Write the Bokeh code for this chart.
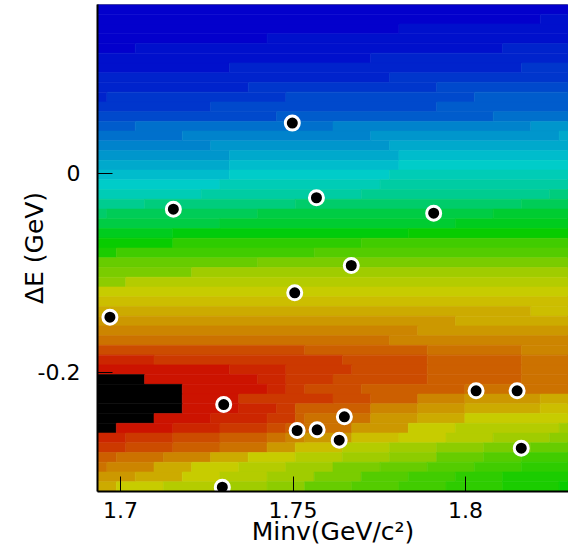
import colorsys
from bokeh.plotting import figure
from bokeh.models import FixedTicker, CustomJSTickFormatter, ColumnDataSource, Range1d
from bokeh.embed import file_html
from bokeh.resources import INLINE

# ---- axis / histogram definition ----
X_RANGE = (1.6933, 1.8299)
Y_RANGE = (-0.3196, 0.1698)
NX = 50
NY = 50
X_TICKS = [1.7, 1.75, 1.8]
X_TICK_LABELS = ["1.7", "1.75", "1.8"]
Y_TICKS = [-0.2, 0.0]
Y_TICK_LABELS = ["-0.2", "0"]
X_TITLE = "Minv(GeV/c\u00b2)"
Y_TITLE = "\u0394E (GeV)"

# ---- colour level of each bin, row by row from the top, as runs (level, number of bins) ----
ROW_00 = [(6, 50)]
ROW_01 = [(6, 47), (7, 3)]
ROW_02 = [(6, 32), (7, 18)]
ROW_03 = [(6, 18), (7, 32)]
ROW_04 = [(6, 4), (7, 39), (8, 7)]
ROW_05 = [(7, 29), (8, 21)]
ROW_06 = [(7, 14), (8, 31), (9, 5)]
ROW_07 = [(8, 31), (9, 19)]
ROW_08 = [(8, 16), (9, 20), (10, 14)]
ROW_09 = [(8, 1), (9, 19), (10, 20), (11, 10)]
ROW_10 = [(9, 12), (10, 24), (11, 14)]
ROW_11 = [(10, 19), (11, 23), (12, 8)]
ROW_12 = [(11, 4), (12, 21), (13, 21), (14, 4)]
ROW_13 = [(12, 9), (13, 20), (14, 20), (15, 1)]
ROW_14 = [(13, 12), (14, 19), (15, 19)]
ROW_15 = [(14, 14), (15, 18), (16, 18)]
ROW_16 = [(15, 14), (16, 18), (17, 18)]
ROW_17 = [(16, 14), (17, 17), (18, 19)]
ROW_18 = [(17, 13), (18, 17), (19, 20)]
ROW_19 = [(18, 11), (19, 17), (20, 20), (21, 2)]
ROW_20 = [(20, 5), (21, 16), (22, 24), (23, 5)]
ROW_21 = [(22, 1), (23, 16), (24, 25), (25, 8)]
ROW_22 = [(24, 13), (25, 25), (26, 12)]
ROW_23 = [(26, 8), (27, 25), (28, 17)]
ROW_24 = [(28, 8), (30, 20), (31, 22)]
ROW_25 = [(29, 2), (31, 21), (32, 27)]
ROW_26 = [(33, 17), (34, 33)]
ROW_27 = [(34, 10), (36, 40)]
ROW_28 = [(35, 3), (37, 47)]
ROW_29 = [(38, 50)]
ROW_30 = [(39, 50)]
ROW_31 = [(40, 46), (39, 4)]
ROW_32 = [(41, 38), (40, 12)]
ROW_33 = [(42, 34), (41, 16)]
ROW_34 = [(43, 31), (42, 19)]
ROW_35 = [(45, 22), (44, 13), (43, 10), (42, 5)]
ROW_36 = [(47, 6), (46, 20), (45, 9), (44, 10), (43, 5)]
ROW_37 = [(48, 14), (47, 6), (46, 7), (45, 8), (44, 10), (43, 5)]
ROW_38 = [(49, 5), (48, 12), (47, 3), (46, 5), (45, 10), (44, 10), (43, 5)]
ROW_39 = [(49, 9), (48, 9), (47, 2), (46, 2), (45, 6), (44, 11), (43, 11)]
ROW_40 = [(49, 9), (48, 6), (46, 10), (45, 4), (44, 5), (42, 5), (41, 8), (40, 3)]
ROW_41 = [(49, 9), (48, 6), (47, 4), (46, 2), (44, 8), (42, 5), (41, 5), (40, 8), (39, 3)]
ROW_42 = [(49, 6), (48, 6), (47, 6), (46, 3), (44, 1), (43, 7), (41, 5), (40, 5), (38, 11)]
ROW_43 = [(49, 2), (48, 6), (47, 5), (46, 5), (45, 2), (44, 2), (43, 5), (41, 6), (38, 5), (37, 11), (36, 1)]
ROW_44 = [(47, 3), (46, 5), (45, 5), (44, 5), (43, 2), (42, 2), (41, 5), (39, 5), (38, 5), (37, 5), (36, 6), (35, 2)]
ROW_45 = [(46, 3), (45, 5), (44, 5), (43, 5), (41, 3), (39, 5), (37, 5), (36, 5), (35, 5), (34, 5), (33, 4)]
ROW_46 = [(44, 2), (43, 5), (42, 5), (40, 4), (38, 5), (37, 5), (36, 5), (35, 5), (33, 5), (32, 4), (31, 5)]
ROW_47 = [(43, 1), (42, 5), (40, 4), (38, 5), (37, 5), (36, 5), (34, 5), (33, 5), (32, 5), (31, 5), (30, 5)]
ROW_48 = [(41, 4), (40, 5), (38, 4), (37, 5), (36, 5), (34, 5), (32, 5), (31, 5), (30, 5), (29, 7)]
ROW_49 = [(40, 2), (38, 5), (37, 6), (36, 5), (35, 4), (33, 5), (32, 5), (31, 5), (30, 6), (29, 6), (28, 1)]

ROWS = [ROW_00, ROW_01, ROW_02, ROW_03, ROW_04, ROW_05, ROW_06, ROW_07, ROW_08, ROW_09,
        ROW_10, ROW_11, ROW_12, ROW_13, ROW_14, ROW_15, ROW_16, ROW_17, ROW_18, ROW_19,
        ROW_20, ROW_21, ROW_22, ROW_23, ROW_24, ROW_25, ROW_26, ROW_27, ROW_28, ROW_29,
        ROW_30, ROW_31, ROW_32, ROW_33, ROW_34, ROW_35, ROW_36, ROW_37, ROW_38, ROW_39,
        ROW_40, ROW_41, ROW_42, ROW_43, ROW_44, ROW_45, ROW_46, ROW_47, ROW_48, ROW_49]

# ---- scatter points ----
MINV = [1.7498, 1.7153, 1.7568, 1.7908, 1.7669, 1.7505, 1.6969, 1.7299,
        1.8031, 1.8150, 1.7649, 1.7512, 1.7570, 1.7634, 1.8162, 1.7295]
DELTA_E = [0.0506, -0.0359, -0.0244, -0.0399, -0.0925, -0.1199, -0.1444, -0.2322,
           -0.2184, -0.2184, -0.2445, -0.2583, -0.2576, -0.2680, -0.2761, -0.3153]


def level_color(j):
    """ROOT 'pretty' palette (HLS, lightness 0.4, saturation 1); top colour is black."""
    if j >= 49:
        return "#000000"
    hue = 280.0 - (j + 1) * 5.6
    r, g, b = colorsys.hls_to_rgb(hue / 360.0, 0.4, 1.0)
    return "#%02x%02x%02x" % (round(r * 255), round(g * 255), round(b * 255))


dx = (X_RANGE[1] - X_RANGE[0]) / NX
dy = (Y_RANGE[1] - Y_RANGE[0]) / NY

left, right, top, bottom, color = [], [], [], [], []
for r, runs in enumerate(ROWS):
    c = 0
    ytop = Y_RANGE[1] - r * dy
    for lev, n in runs:
        n = min(n, NX - c)
        if n <= 0:
            continue
        left.append(X_RANGE[0] + c * dx)
        right.append(X_RANGE[0] + (c + n) * dx)
        top.append(ytop)
        bottom.append(ytop - dy)
        color.append(level_color(lev))
        c += n

src = ColumnDataSource(dict(left=left, right=right, top=top, bottom=bottom, color=color))

p = figure(width=568, height=558, output_backend="svg", toolbar_location=None,
           x_range=Range1d(*X_RANGE), y_range=Range1d(*Y_RANGE),
           min_border_left=97, min_border_right=0, min_border_top=4, min_border_bottom=67)
p.background_fill_color = "white"
p.border_fill_color = "white"
p.outline_line_color = "#808080"
p.outline_line_width = 1
p.xgrid.visible = False
p.ygrid.visible = False

p.quad(left="left", right="right", top="top", bottom="bottom", source=src,
       fill_color="color", line_color="color", line_width=0.6)

p.scatter(MINV, DELTA_E, size=14, fill_color="black", line_color="white", line_width=3)

fmt_code = ("for (let i = 0; i < tvals.length; i++) {"
            " if (Math.abs(tick - tvals[i]) < 1e-9) return tlabels[i]; } return '';")

for ax, tv, tl in ((p.xaxis[0], X_TICKS, X_TICK_LABELS), (p.yaxis[0], Y_TICKS, Y_TICK_LABELS)):
    ax.ticker = FixedTicker(ticks=tv)
    ax.formatter = CustomJSTickFormatter(args=dict(tvals=tv, tlabels=tl), code=fmt_code)
    ax.major_tick_in = 15
    ax.major_tick_out = 0
    ax.minor_tick_in = 0
    ax.minor_tick_out = 0
    ax.axis_line_color = "black"
    ax.axis_line_width = 2
    ax.major_tick_line_color = "black"
    ax.major_tick_line_width = 1
    ax.major_label_text_font = "DejaVu Sans"
    ax.major_label_text_font_size = "22px"
    ax.major_label_text_color = "black"
    ax.axis_label_text_font = "DejaVu Sans"
    ax.axis_label_text_font_size = "25px"
    ax.axis_label_text_font_style = "normal"
    ax.axis_label_text_color = "black"

p.xaxis.axis_label = X_TITLE
p.yaxis.axis_label = Y_TITLE
p.xaxis.major_label_standoff = 10
p.xaxis.axis_label_standoff = -4
p.yaxis.major_label_standoff = 17
p.yaxis.axis_label_standoff = -14

open("out.html", "w").write(file_html(p, INLINE))
